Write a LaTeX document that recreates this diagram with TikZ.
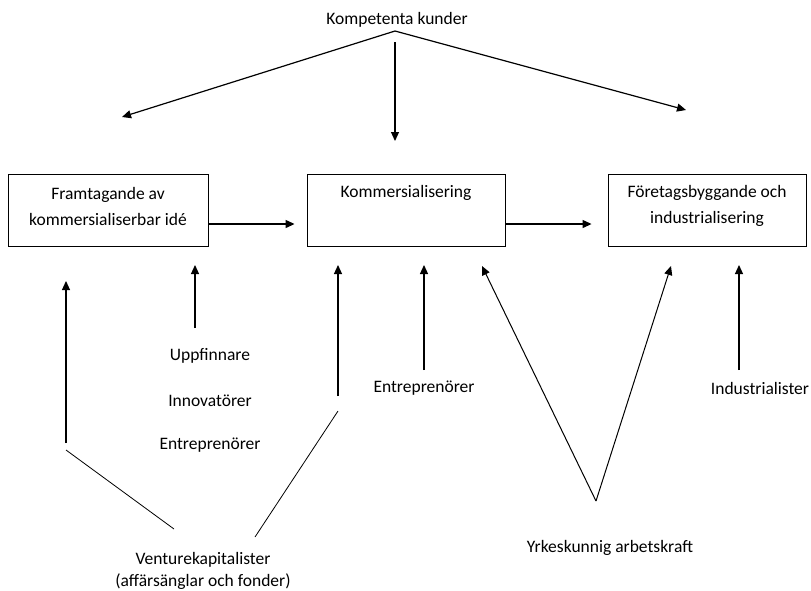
\documentclass[tikz,border=0pt]{standalone}
\usepackage{fontspec}
\setmainfont{Carlito}
\usetikzlibrary{arrows.meta}
\begin{document}
\begin{tikzpicture}[x=1pt,y=-1pt,
  box/.style={draw, line width=0.9pt, minimum height=72pt, inner sep=0pt},
  lbl/.style={font=\fontsize{17.5}{22}\selectfont, inner sep=0pt, align=center},
  blbl/.style={font=\fontsize{17.5}{26}\selectfont, inner sep=0pt, align=center},
  tip/.style={-{Triangle[length=9pt,width=8pt]}},
  arr/.style={line width=1.2pt, tip},
  ln/.style={line width=0.8pt}]
\useasboundingbox (0,0) rectangle (811,590);
% boxes
\node[box, minimum width=200pt] (b1) at (108,210) {};
\node[box, minimum width=198pt] (b2) at (406,210) {};
\node[box, minimum width=198pt] (b3) at (707,210) {};
\node[blbl] (t1) at (108,206) {Framtagande av\\kommersialiserbar idé};
\node[blbl] (t2) at (406,193) {Kommersialisering};
\node[blbl] (t3) at (707,206) {Företagsbyggande och\\industrialisering};
\draw[arr, shorten >=12pt] ([yshift=-14pt]b1.east) -- ([yshift=-14pt]b2.west);
\draw[arr, shorten >=16pt] ([yshift=-14pt]b2.east) -- ([yshift=-14pt]b3.west);
% top
\node[lbl] (kk) at (397,20) {Kompetenta kunder};
\coordinate (apex) at (395,31);
\coordinate (kl) at (122,117);
\coordinate (kr) at (686,110);
\coordinate (kvs) at (395,42);
\coordinate (kve) at (395,141);
\draw[arr] (apex) -- (kl);
\draw[arr] (apex) -- (kr);
\draw[arr] (kvs) -- (kve);
% left group
\node[lbl] (upp) at (210,356) {Uppfinnare};
\node[lbl] (inn) at (210,401) {Innovatörer};
\node[lbl] (ent1) at (210,445) {Entreprenörer};
\coordinate (ua) at (195,328);
\coordinate (ub) at (195,265);
\draw[arr] (ua) -- (ub);
% venture
\node[lbl] (vk) at (203,571) {Venturekapitalister\\(affärsänglar och fonder)};
\coordinate (v1a) at (66,443);
\coordinate (v1b) at (66,281);
\draw[arr] (v1a) -- (v1b);
\coordinate (v1c) at (66,450);
\coordinate (v1d) at (174,529);
\draw[ln] (v1c) -- (v1d);
\coordinate (v2a) at (338,396);
\coordinate (v2b) at (338,265);
\draw[arr] (v2a) -- (v2b);
\coordinate (v2c) at (338,411);
\coordinate (v2d) at (255,537);
\draw[ln] (v2c) -- (v2d);
% entreprenorer middle
\node[lbl] (ent2) at (424,388) {Entreprenörer};
\coordinate (ea) at (424,370);
\coordinate (eb) at (424,265);
\draw[arr] (ea) -- (eb);
% yrkeskunnig
\node[lbl] (yrk) at (610,548) {Yrkeskunnig arbetskraft};
\coordinate (yv) at (596,501);
\coordinate (yl) at (482,266);
\coordinate (yr) at (671,266);
\draw[line width=1pt, tip] (yv) -- (yl);
\draw[line width=1pt, tip] (yv) -- (yr);
% industrialister
\node[lbl] (ind) at (760,388) {Industrialister};
\coordinate (ia) at (739,370);
\coordinate (ib) at (739,265);
\draw[arr] (ia) -- (ib);
\end{tikzpicture}
\end{document}
